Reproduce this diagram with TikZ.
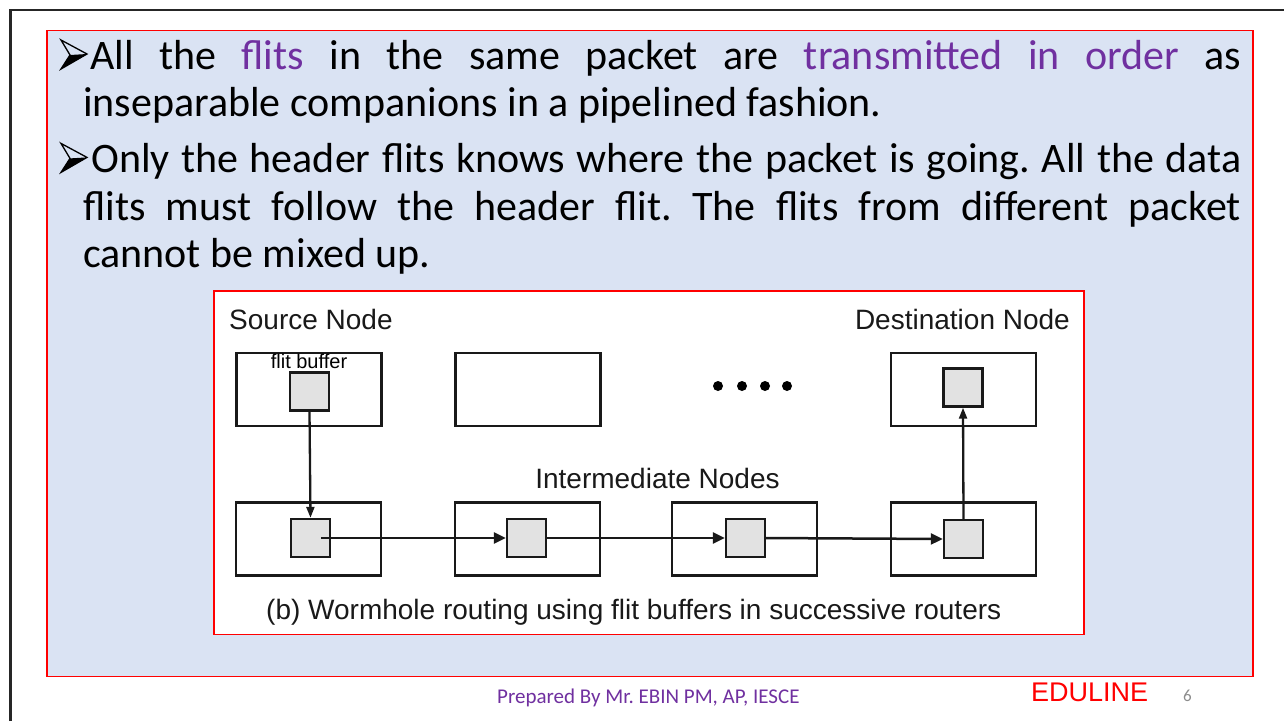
\documentclass[tikz,border=0pt]{standalone}
\usepackage{fontspec}
\setmainfont{Carlito}
\newfontfamily\figfont{Liberation Sans}
\usetikzlibrary{arrows.meta}
\definecolor{slidebg}{HTML}{DAE3F3}
\definecolor{accent}{HTML}{7030A0}
\definecolor{framered}{HTML}{FF0000}
\definecolor{bufgrey}{HTML}{E2E2E2}
\definecolor{pagegrey}{HTML}{8C8C8C}
\frenchspacing

\tikzset{
  pointer/.pic={
    \fill[black] (9,15) -- (26,14) -- (0,29) -- cycle;
    \draw[black, line width=1.3pt, line join=miter] (0,0) -- (26,14) -- (0,29) -- (9,15) -- cycle;
  }
}

\begin{document}
\begin{tikzpicture}[x=1pt,y=-1pt,
  bodytext/.style={anchor=base west, inner sep=0pt, font=\fontsize{42}{47}\selectfont},
  router/.style={draw=black!90, line width=2.8pt, minimum width=145pt, minimum height=73pt, inner sep=0pt},
  flitbuf/.style={draw=black!90, line width=2.4pt, fill=bufgrey, minimum width=39pt, minimum height=38pt, inner sep=0pt},
  figlabel/.style={font=\figfont\fontsize{28}{30}\selectfont, inner sep=0pt, anchor=base west, text=black!90},
  link/.style={draw=black!90, line width=2.5pt, -{Triangle[length=12pt,width=11pt]}},
  uplink/.style={draw=black!90, line width=2.3pt, -{Triangle[length=11pt,width=8pt]}},
  dot/.style={circle, fill=black, minimum size=10pt, inner sep=0pt}
]
\path[use as bounding box] (0,0) rectangle (1284,721);
\fill[white] (0,0) rectangle (1284,721);

% slide frame
\draw[line width=2.5pt, black!85] (10.5,721) -- (10.5,10) -- (1284,10);

% content panel
\draw[framered, line width=1.5pt, fill=slidebg] (47,30.5) rectangle (1253,676.5);

% first bullet
\pic at (61,40) {pointer};
\node[bodytext] (l1) at (90,69.3) {\makebox[1151pt][s]{All the \textcolor{accent}{flits} in the same packet are \textcolor{accent}{transmitted in order} as}};
\node[bodytext] (l2) at (83,116) {inseparable companions in a pipelined fashion.};

% second bullet
\pic at (61,143.4) {pointer};
\node[bodytext] (l3) at (91,172.7) {\makebox[1150pt][s]{Only the header flits knows where the packet is going. All the data}};
\node[bodytext] (l4) at (83,220) {\makebox[1158pt][s]{flits must follow the header flit. The flits from different packet}};
\node[bodytext] (l5) at (83,267) {cannot be mixed up.};

% figure panel
\draw[framered, line width=1.5pt, fill=white] (214,291) rectangle (1084,634.5);

% routers
\node[router] (src) at (309,389.5) {};
\node[router] (mid) at (528,389.5) {};
\node[router] (dst) at (963.5,389.5) {};
\node[router] (r1) at (308.5,539) {};
\node[router] (r2) at (527.5,539) {};
\node[router] (r3) at (744.5,539) {};
\node[router] (r4) at (963.5,539) {};

% flit buffers
\node[flitbuf] (sbuf) at (309.5,391.5) {};
\node[flitbuf] (dbuf) at (963,387.5) {};
\node[flitbuf] (b1) at (310.5,538) {};
\node[flitbuf] (b2) at (526.5,538) {};
\node[flitbuf] (b3) at (745.5,538) {};
\node[flitbuf] (b4) at (963.5,539) {};

% ellipsis between nodes
\node[dot] (d1) at (718,386) {};
\node[dot] (d2) at (742,386) {};
\node[dot] (d3) at (765,386) {};
\node[dot] (d4) at (787,386) {};

% labels
\node[figlabel] (srclab) at (229,329.3) {Source Node};
\node[figlabel, anchor=base east] (dstlab) at (1070,329.3) {Destination Node};
\node[figlabel, anchor=base] (midlab) at (657.5,488) {Intermediate Nodes};
\node[figlabel] (cap) at (266,619) {(b) Wormhole routing using flit buffers in successive routers};
\node[font=\figfont\fontsize{20}{20}\selectfont, inner sep=0pt, anchor=base] (buflab) at (309,368) {flit buffer};

% flit path
\draw[uplink] (sbuf.south) -- (b1.north);
\draw[link, shorten <=-10pt] (b1.east) -- (b2.west);
\draw[link] (b2.east) -- (b3.west);
\draw[link] (b3.east) -- (b4.west);
\draw[uplink] (b4.north) -- (dbuf.south);

% footer
\node[anchor=base west, inner sep=0pt, text=accent, font=\fontsize{21}{21}\selectfont] (footer) at (497,703) {Prepared By Mr. EBIN PM, AP, IESCE};
\node[anchor=base west, inner sep=0pt, text=red, font=\figfont\fontsize{27}{27}\selectfont] (brand) at (1031,701) {EDULINE};
\node[anchor=base west, inner sep=0pt, text=pagegrey, font=\fontsize{17}{17}\selectfont] (pnum) at (1183,701.5) {6};
\end{tikzpicture}
\end{document}
